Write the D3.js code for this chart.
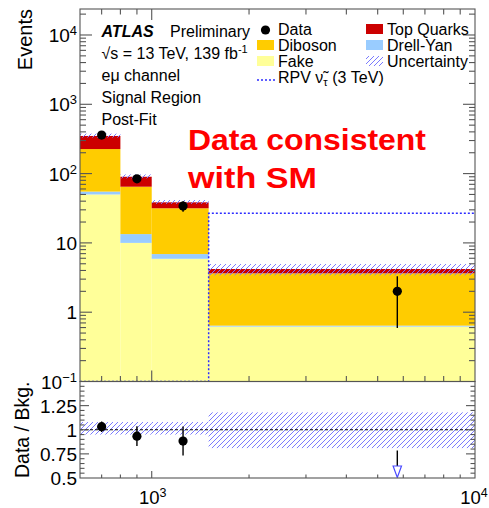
<!DOCTYPE html>
<html><head><meta charset="utf-8">
<script src="https://cdn.jsdelivr.net/npm/d3@7"></script>
<style>body{margin:0;background:#fff}svg{display:block}text{font-family:"Liberation Sans",Arial,Helvetica,sans-serif}</style>
</head><body>
<svg id="c" width="489" height="508"></svg>
<script>
// ---------- data ----------
const binEdges   = [600, 800, 1000, 1500, 10000];
const binCenters = [700, 900, 1250, 5750];
const fake       = [50, 10, 5.9, 0.62];
const drellYan   = [5, 3.4, 1.0, 0.02];
const diboson    = [171, 51.3, 24.7, 3.0];
const topQuarks  = [123, 25.3, 6.9, 0.56];
const dataVals   = [360, 84, 34, 2];
const dataErrUp  = [19, 9.2, 5.8, 1.3];
const dataErrDn  = [19, 9.2, 5.8, 1.41];
const signalVals = [0, 0, 0, 26.7];
const uncUp      = [0.08, 0.08, 0.08, 0.18];
const uncDn      = [0.05, 0.05, 0.05, 0.19];
const yLabelVals = [0.1, 1, 10, 100, 1000, 10000];
const yLabelBase = ["10", "1", "10", "10", "10", "10"];
const yLabelExp  = ["\u22121", "", "", "2", "3", "4"];
const rLabelVals = [0.5, 0.75, 1, 1.25];
const rLabelText = ["0.5", "0.75", "1", "1.25"];
const xLabelVals = [1000, 10000];
const xLabelExp  = ["3", "4"];

// ---------- layout ----------
const L = 80, R = 475, T = 9, MB = 381.5, RB = 478;
const svg = d3.select("#c");
const x = d3.scaleLog().domain([600, 10000]).range([L, R]);
const y = d3.scaleLog().domain([0.1, Math.pow(10, 4.375)]).range([MB, T]);
const yr = d3.scaleLinear().domain([0.5, 1.5]).range([RB, MB]);

const colors = {fake: "#ffff99", dy: "#99ccff", dib: "#ffcc00", top: "#cc0000"};
const hatchCol = "#7a7aff";
const frameCol = "#555";

const defs = svg.append("defs");
const pat = defs.append("pattern").attr("id", "hatch").attr("patternUnits", "userSpaceOnUse")
  .attr("width", 5).attr("height", 5);
pat.append("path").attr("d", "M-1,6 L6,-1 M-1,1 L1,-1 M4,6 L6,4").attr("stroke", hatchCol).attr("stroke-width", 1);
defs.append("clipPath").attr("id", "mainclip").append("rect").attr("x", L).attr("y", T).attr("width", R - L).attr("height", MB - T);
defs.append("clipPath").attr("id", "ratioclip").append("rect").attr("x", L).attr("y", MB).attr("width", R - L).attr("height", RB - MB);

// ---------- stack ----------
const rows = binCenters.map((c, i) => ({i, fake: fake[i], dy: drellYan[i], dib: diboson[i], top: topQuarks[i]}));
const keys = ["fake", "dy", "dib", "top"];
const stack = d3.stack().keys(keys)(rows);
const totals = rows.map(r => r.fake + r.dy + r.dib + r.top);

const gMain = svg.append("g").attr("clip-path", "url(#mainclip)");
stack.forEach(layer => {
  gMain.selectAll(null).data(layer).enter().append("rect")
    .attr("x", d => x(binEdges[d.data.i]))
    .attr("width", d => x(binEdges[d.data.i + 1]) - x(binEdges[d.data.i]))
    .attr("y", d => y(d[1]))
    .attr("height", d => y(Math.max(d[0], 0.1)) - y(d[1]))
    .attr("fill", colors[layer.key]);
});
// uncertainty band (main)
gMain.selectAll(null).data(totals).enter().append("rect")
  .attr("x", (d, i) => x(binEdges[i]))
  .attr("width", (d, i) => x(binEdges[i + 1]) - x(binEdges[i]))
  .attr("y", (d, i) => y(d * (1 + uncUp[i])))
  .attr("height", (d, i) => y(d * (1 - uncDn[i])) - y(d * (1 + uncUp[i])))
  .attr("fill", "url(#hatch)");

// signal step line
const sigPts = [];
signalVals.forEach((v, i) => {
  const vv = Math.max(v, 0.1);
  sigPts.push([binEdges[i], vv], [binEdges[i + 1], vv]);
});
gMain.append("path").attr("d", d3.line().x(d => x(d[0])).y(d => y(d[1]))(sigPts))
  .attr("fill", "none").attr("stroke", "#2b2bff").attr("stroke-width", 1.5).attr("stroke-dasharray", "2,2");

// data points (main)
gMain.selectAll(null).data(dataVals).enter().append("line")
  .attr("x1", (d, i) => x(binCenters[i])).attr("x2", (d, i) => x(binCenters[i]))
  .attr("y1", (d, i) => y(d + dataErrUp[i])).attr("y2", (d, i) => y(Math.max(d - dataErrDn[i], 0.1)))
  .attr("stroke", "#000").attr("stroke-width", 1.4);
gMain.selectAll(null).data(dataVals).enter().append("circle")
  .attr("cx", (d, i) => x(binCenters[i])).attr("cy", d => y(d)).attr("r", 4.6).attr("fill", "#000");

// ---------- ratio ----------
const gR = svg.append("g").attr("clip-path", "url(#ratioclip)");
gR.selectAll(null).data(totals).enter().append("rect")
  .attr("x", (d, i) => x(binEdges[i]))
  .attr("width", (d, i) => x(binEdges[i + 1]) - x(binEdges[i]))
  .attr("y", (d, i) => yr(1 + uncUp[i]))
  .attr("height", (d, i) => yr(1 - uncDn[i]) - yr(1 + uncUp[i]))
  .attr("fill", "url(#hatch)");
gR.append("line").attr("x1", L).attr("x2", R).attr("y1", yr(1)).attr("y2", yr(1))
  .attr("stroke", "#000").attr("stroke-width", 1).attr("stroke-dasharray", "3,2");
dataVals.forEach((d, i) => {
  const r = d / totals[i], rUp = (d + dataErrUp[i]) / totals[i], rDn = (d - dataErrDn[i]) / totals[i];
  const cx = x(binCenters[i]);
  if (r >= 0.5) {
    gR.append("line").attr("x1", cx).attr("x2", cx).attr("y1", yr(Math.min(rUp, 1.5))).attr("y2", yr(Math.max(rDn, 0.5)))
      .attr("stroke", "#000").attr("stroke-width", 1.4);
    gR.append("circle").attr("cx", cx).attr("cy", yr(r)).attr("r", 4.6).attr("fill", "#000");
  } else {
    const tipY = yr(0.5) - 0.5, topY = tipY - 11.5;
    gR.append("line").attr("x1", cx).attr("x2", cx).attr("y1", yr(rUp)).attr("y2", topY)
      .attr("stroke", "#000").attr("stroke-width", 1.4);
    gR.append("path").attr("d", `M${cx - 4.2},${topY} L${cx + 4.2},${topY} L${cx},${tipY} Z`)
      .attr("fill", "#fff").attr("stroke", "#4b4bff").attr("stroke-width", 1.2);
  }
});

// ---------- frames & ticks ----------
const gAx = svg.append("g").attr("stroke", frameCol).attr("stroke-width", 1.1);
gAx.append("rect").attr("x", L).attr("y", T).attr("width", R - L).attr("height", MB - T).attr("fill", "none");
gAx.append("rect").attr("x", L).attr("y", MB).attr("width", R - L).attr("height", RB - MB).attr("fill", "none");

const isMajor = v => Math.abs(Math.log10(v) - Math.round(Math.log10(v))) < 1e-6;
// y main ticks
y.ticks().filter(v => v > 0.1 + 1e-9).forEach(v => {
  const len = isMajor(v) ? 12 : 6, yy = y(v);
  if (yy < T + 0.5) return;
  gAx.append("line").attr("x1", L).attr("x2", L + len).attr("y1", yy).attr("y2", yy);
  gAx.append("line").attr("x1", R).attr("x2", R - len).attr("y1", yy).attr("y2", yy);
});
// x ticks
x.ticks().filter(v => v > 600 && v < 10000).forEach(v => {
  const maj = isMajor(v), xx = x(v);
  const lm = maj ? 11 : 5.5, lr = maj ? 7 : 3.5;
  gAx.append("line").attr("x1", xx).attr("x2", xx).attr("y1", MB).attr("y2", MB - lm);
  gAx.append("line").attr("x1", xx).attr("x2", xx).attr("y1", T).attr("y2", T + lm);
  gAx.append("line").attr("x1", xx).attr("x2", xx).attr("y1", RB).attr("y2", RB - lr);
});
// ratio y ticks
d3.range(0.55, 1.5, 0.05).forEach(v => {
  const maj = Math.abs(v * 4 - Math.round(v * 4)) < 1e-6, yy = yr(v), len = maj ? 9 : 4.5;
  gAx.append("line").attr("x1", L).attr("x2", L + len).attr("y1", yy).attr("y2", yy);
  gAx.append("line").attr("x1", R).attr("x2", R - len).attr("y1", yy).attr("y2", yy);
});

// ---------- tick labels ----------
const fs = 19;
yLabelVals.forEach((v, i) => {
  const t = svg.append("text").attr("x", 77).attr("y", y(v) + 7).attr("text-anchor", "end").attr("font-size", fs);
  t.append("tspan").text(yLabelBase[i]);
  if (yLabelExp[i]) t.append("tspan").attr("dy", -7).attr("font-size", 13).text(yLabelExp[i]);
});
rLabelVals.forEach((v, i) => {
  svg.append("text").attr("x", 77).attr("y", yr(v) + 7).attr("text-anchor", "end").attr("font-size", fs).text(rLabelText[i]);
});
xLabelVals.forEach((v, i) => {
  const t = svg.append("text").attr("x", Math.min(x(v) + 1, 474)).attr("y", 503.5).attr("text-anchor", "middle").attr("font-size", 18.5);
  t.append("tspan").text("10");
  t.append("tspan").attr("dy", -7).attr("font-size", 12.5).text(xLabelExp[i]);
});
svg.append("text").attr("transform", `translate(32,${T}) rotate(-90)`).attr("text-anchor", "end")
  .attr("font-size", 20).text("Events");
svg.append("text").attr("transform", `translate(29,${(MB + RB) / 2}) rotate(-90)`).attr("text-anchor", "middle")
  .attr("font-size", 19.5).text("Data / Bkg.");

// ---------- labels ----------
svg.append("text").attr("x", 101.5).attr("y", 36.5).attr("font-size", 16).attr("font-weight", "bold").attr("font-style", "italic").text("ATLAS");
svg.append("text").attr("x", 170).attr("y", 36.5).attr("font-size", 16).text("Preliminary");
const t2 = svg.append("text").attr("x", 101.5).attr("y", 58.5).attr("font-size", 16);
t2.append("tspan").text("\u221As = 13 TeV, 139 fb");
t2.append("tspan").attr("dy", -6).attr("font-size", 11).text("-1");
svg.append("text").attr("x", 101.5).attr("y", 81).attr("font-size", 16).text("e\u03bc channel");
svg.append("text").attr("x", 101.5).attr("y", 103).attr("font-size", 16).text("Signal Region");
svg.append("text").attr("x", 101.5).attr("y", 125).attr("font-size", 16).text("Post-Fit");

// red note
svg.append("text").attr("x", 188).attr("y", 149.5).attr("font-size", 30).attr("font-weight", "bold")
  .attr("font-family", "'Comic Sans MS','DejaVu Sans',sans-serif").attr("fill", "#ff0000")
  .attr("textLength", 238).attr("lengthAdjust", "spacingAndGlyphs").text("Data consistent");
svg.append("text").attr("x", 188).attr("y", 187.5).attr("font-size", 30).attr("font-weight", "bold")
  .attr("font-family", "'Comic Sans MS','DejaVu Sans',sans-serif").attr("fill", "#ff0000")
  .attr("textLength", 129).attr("lengthAdjust", "spacingAndGlyphs").text("with SM");

// ---------- legend ----------
const lg = svg.append("g").attr("font-size", 16);
const rowY = [35, 51, 67, 83];
lg.append("circle").attr("cx", 265.5).attr("cy", rowY[0] - 5).attr("r", 4.6).attr("fill", "#000");
lg.append("text").attr("x", 278).attr("y", rowY[0]).text("Data");
lg.append("rect").attr("x", 257).attr("y", rowY[1] - 11).attr("width", 17).attr("height", 10).attr("fill", colors.dib);
lg.append("text").attr("x", 278).attr("y", rowY[1]).text("Diboson");
lg.append("rect").attr("x", 257).attr("y", rowY[2] - 11).attr("width", 17).attr("height", 10).attr("fill", colors.fake);
lg.append("text").attr("x", 278).attr("y", rowY[2]).text("Fake");
lg.append("line").attr("x1", 257).attr("x2", 275).attr("y1", rowY[3] - 3).attr("y2", rowY[3] - 3)
  .attr("stroke", "#2b2bff").attr("stroke-width", 1.5).attr("stroke-dasharray", "2,2");
const rt = lg.append("text").attr("x", 278).attr("y", rowY[3]);
rt.append("tspan").text("RPV \u03bd\u0303");
rt.append("tspan").attr("dy", 3).attr("font-size", 11).text("\u03c4");
rt.append("tspan").attr("dy", -3).text(" (3 TeV)");
lg.append("rect").attr("x", 366).attr("y", rowY[0] - 11).attr("width", 17).attr("height", 10).attr("fill", colors.top);
lg.append("text").attr("x", 387).attr("y", rowY[0]).text("Top Quarks");
lg.append("rect").attr("x", 366).attr("y", rowY[1] - 11).attr("width", 17).attr("height", 10).attr("fill", colors.dy);
lg.append("text").attr("x", 387).attr("y", rowY[1]).text("Drell-Yan");
lg.append("rect").attr("x", 366).attr("y", rowY[2] - 11).attr("width", 17).attr("height", 10).attr("fill", "url(#hatch)");
lg.append("text").attr("x", 387).attr("y", rowY[2]).text("Uncertainty");
</script>
</body></html>
